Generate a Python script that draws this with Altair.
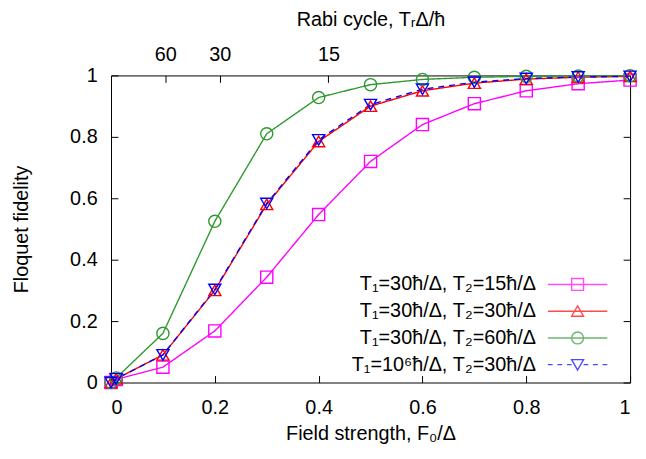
import math
import altair as alt
import pandas as pd

# ---------------- data ----------------
field = [0.0, 0.01, 0.1, 0.2, 0.3, 0.4, 0.5, 0.6, 0.7, 0.8, 0.9, 1.0]
fid_t2_15 = [0.0, 0.01, 0.05, 0.168, 0.343, 0.547, 0.72, 0.84, 0.908, 0.95, 0.973, 0.985]
fid_t2_30 = [0.0, 0.012, 0.09, 0.30, 0.58, 0.785, 0.90, 0.95, 0.975, 0.988, 0.994, 0.997]
fid_t2_60 = [0.0, 0.015, 0.16, 0.525, 0.81, 0.928, 0.97, 0.987, 0.994, 0.997, 0.998, 0.999]
fid_t1_inf = [0.0, 0.012, 0.09, 0.303, 0.583, 0.79, 0.905, 0.955, 0.978, 0.99, 0.995, 0.997]

series_labels = [
    "T\u2081=30\u0127/\u0394, T\u2082=15\u0127/\u0394",
    "T\u2081=30\u0127/\u0394, T\u2082=30\u0127/\u0394",
    "T\u2081=30\u0127/\u0394, T\u2082=60\u0127/\u0394",
    "T\u2081=10\u2076\u0127/\u0394, T\u2082=30\u0127/\u0394",
]
colors = ["#ff00ff", "#ff0000", "#2e9a2e", "#0000ff"]
shapes = ["square", "triangle-up", "circle", "triangle-down"]
dashes = [[1, 0], [1, 0], [1, 0], [6, 5]]

x_ticks = [0, 0.2, 0.4, 0.6, 0.8, 1]
y_ticks = [0, 0.2, 0.4, 0.6, 0.8, 1]
rabi_ticks = [60, 30, 15]          # top axis: Rabi cycle T_R*Delta/hbar
rabi_pos = [2 * math.pi / t for t in rabi_ticks]


# legend symbols: line segment + marker drawn to the right of the label
# (unit path, scaled by sqrt(size)/2)
def _f(v):
    return f"{v:.2f}"


C = 8.67


def seg(a, b):
    return f"M{_f(C + a)},0H{_f(C + b)}"


legend_paths = [
    seg(-5, 5) + f"M{_f(C - 1)},-1H{_f(C + 1)}V1H{_f(C - 1)}Z",
    seg(-5, 5) + f"M{_f(C)},-0.9L{_f(C + 1)},0.85L{_f(C - 1)},0.85Z",
    seg(-5, 5) + f"M{_f(C + 1)},0A1,1,0,1,1,{_f(C - 1)},0A1,1,0,1,1,{_f(C + 1)},0Z",
    seg(-5, -4.2) + seg(-3.4, -2.6) + seg(-1.8, -1) + seg(1, 1.8) + seg(2.6, 3.4) + seg(4.2, 5)
    + f"M{_f(C)},0.9L{_f(C + 1)},-0.85L{_f(C - 1)},-0.85Z",
]

rows = []
for lab, vals in zip(series_labels, [fid_t2_15, fid_t2_30, fid_t2_60, fid_t1_inf]):
    for f, v in zip(field, vals):
        rows.append({"field": f, "fidelity": v, "series": lab})
df = pd.DataFrame(rows)

FONT = "Liberation Sans"
FS = 20
W, H = 524, 310

xscale = alt.Scale(domain=[0, 1], nice=False, zero=False)
yscale = alt.Scale(domain=[0, 1], nice=False, zero=False)


def color_enc(legend=None):
    if legend is None:
        return alt.Color("series:N", scale=alt.Scale(domain=series_labels, range=colors), legend=None)
    return alt.Color("series:N", scale=alt.Scale(domain=series_labels, range=colors), legend=legend)


base = alt.Chart(df)

lines = base.mark_line(strokeWidth=1.4).encode(
    x=alt.X("field:Q", scale=xscale,
            axis=alt.Axis(orient="bottom", values=x_ticks, format="~g", ticks=False, tickSize=0,
                          domain=False, grid=False, labelPadding=15,
                          title="Field strength, F\u2080/\u0394", titlePadding=7)),
    y=alt.Y("fidelity:Q", scale=yscale,
            axis=alt.Axis(orient="left", values=y_ticks, format="~g", ticks=False, tickSize=0,
                          domain=False, grid=False, labelPadding=14,
                          title="Floquet fidelity", titlePadding=39)),
    color=color_enc(),
    strokeDash=alt.StrokeDash("series:N", scale=alt.Scale(domain=series_labels, range=dashes), legend=None),
)

points = base.mark_point(filled=False, size=150, strokeWidth=1.4, opacity=1).encode(
    x=alt.X("field:Q", scale=xscale,
            axis=alt.Axis(orient="top", offset=-H, values=x_ticks, labels=False, ticks=True,
                          tickSize=7, domain=False, grid=False, title=None)),
    y=alt.Y("fidelity:Q", scale=yscale,
            axis=alt.Axis(orient="right", offset=-W, values=y_ticks, labels=False, ticks=True,
                          tickSize=7, domain=False, grid=False, title=None)),
    color=color_enc(),
    shape=alt.Shape("series:N", scale=alt.Scale(domain=series_labels, range=shapes), legend=None),
)

leg = alt.Legend(orient="none", legendX=409, legendY=201, title=None, labelAlign="right",
                 labelOffset=0, symbolOffset=0, symbolSize=144, symbolStrokeWidth=1.4,
                 labelFont=FONT, labelFontSize=FS, labelColor="black", labelLimit=400,
                 rowPadding=7, padding=0)

legend_layer = base.transform_filter("false").mark_point(filled=False, size=144, strokeWidth=1.4).encode(
    x=alt.X("field:Q", scale=xscale,
            axis=alt.Axis(orient="top", values=rabi_pos,
                          labelExpr="format(2*PI/datum.value, '.0f')",
                          ticks=False, tickSize=0, domain=False, grid=False, labelPadding=11,
                          title="Rabi cycle, T\u1d63\u0394/\u0127", titlePadding=15)),
    y=alt.Y("fidelity:Q", scale=yscale,
            axis=alt.Axis(orient="left", offset=-W, values=y_ticks, labels=False, ticks=True,
                          tickSize=7, domain=False, grid=False, title=None)),
    color=color_enc(leg),
    shape=alt.Shape("series:N", scale=alt.Scale(domain=series_labels, range=legend_paths), legend=leg),
)

top_ticks = base.transform_filter("false").mark_point(opacity=0).encode(
    x=alt.X("field:Q", scale=xscale,
            axis=alt.Axis(orient="bottom", offset=-H, values=rabi_pos, labels=False, ticks=True,
                          tickSize=7, domain=False, grid=False, title=None)),
    y=alt.Y("fidelity:Q", scale=yscale, axis=None),
)

chart = (
    alt.layer(lines, points, legend_layer, top_ticks)
    .resolve_scale(color="independent", shape="independent", strokeDash="independent")
    .resolve_axis(x="independent", y="independent")
    .properties(width=W, height=H, autosize="none", background="white",
                padding={"left": 104, "top": 66, "right": 8, "bottom": 60})
    .configure_view(stroke="black", strokeWidth=1)
    .configure_axis(labelFont=FONT, titleFont=FONT, labelFontSize=FS, titleFontSize=FS,
                    labelColor="black", titleColor="black", titleFontWeight="normal",
                    tickColor="black", tickWidth=1)
)

chart.save("out.html", embed_options={"renderer": "svg", "actions": False})
